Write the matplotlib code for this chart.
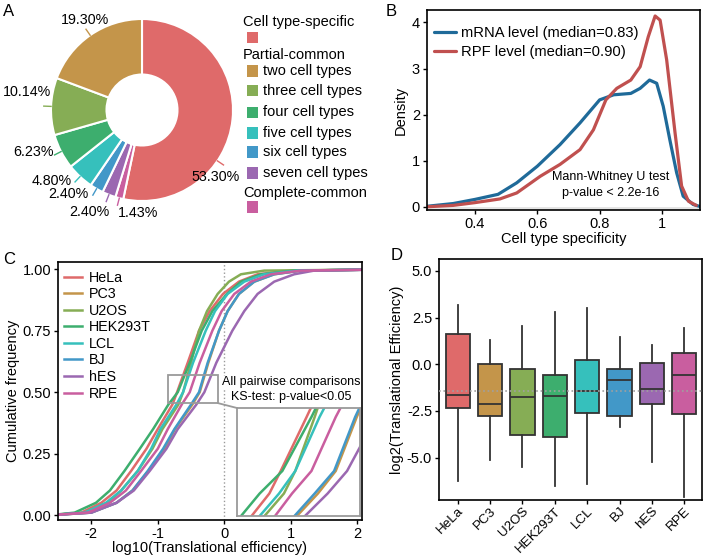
import numpy as np
import matplotlib
matplotlib.use("Agg")
import matplotlib.pyplot as plt
from matplotlib.patches import Rectangle, ConnectionPatch

plt.rcParams['font.family'] = ['Liberation Sans', 'DejaVu Sans']
plt.rcParams['axes.unicode_minus'] = False

# ---------------- data ----------------
# Panel A
pie_categories = ["Cell type-specific", "two cell types", "three cell types", "four cell types",
                  "five cell types", "six cell types", "seven cell types", "Complete-common"]
pie_values = [53.30, 19.30, 10.14, 6.23, 4.80, 2.40, 2.40, 1.43]
pie_labels = ["53.30%", "19.30%", "10.14%", "6.23%", "4.80%", "2.40%", "2.40%", "1.43%"]

# Panel B
mrna_x = [0.245, 0.33, 0.40, 0.474, 0.534, 0.60, 0.673, 0.737, 0.80, 0.845, 0.90, 0.93, 0.96,
          0.983, 1.004, 1.025, 1.047, 1.068, 1.10, 1.12]
mrna_y = [0.01, 0.07, 0.16, 0.27, 0.52, 0.88, 1.35, 1.82, 2.32, 2.43, 2.46, 2.57, 2.75,
          2.68, 2.18, 1.46, 0.74, 0.23, 0.05, 0.01]
rpf_x = [0.245, 0.33, 0.40, 0.48, 0.534, 0.609, 0.673, 0.737, 0.78, 0.82, 0.855, 0.90, 0.93,
         0.956, 0.978, 0.994, 1.015, 1.042, 1.063, 1.085, 1.11]
rpf_y = [0.0, 0.03, 0.09, 0.17, 0.30, 0.66, 0.92, 1.24, 1.67, 2.32, 2.57, 2.75, 3.04,
         3.69, 4.14, 4.05, 3.19, 1.60, 0.45, 0.12, 0.03]
density_labels = ["mRNA level (median=0.83)", "RPF level (median=0.90)"]

# Panel C / D
cell_types = ["HeLa", "PC3", "U2OS", "HEK293T", "LCL", "BJ", "hES", "RPE"]
cdf_levels = [0.0, 0.01, 0.05, 0.10, 0.18, 0.27, 0.35, 0.45, 0.50, 0.62, 0.75, 0.83, 0.90,
              0.95, 0.98, 0.995, 1.0]
cdf_HeLa = [-2.6, -2.15, -1.85, -1.62, -1.40, -1.17, -1.00, -0.78, -0.71, -0.55, -0.38, -0.22,
            -0.02, 0.22, 0.50, 1.00, 2.5]
cdf_PC3 = [-2.6, -2.00, -1.62, -1.38, -1.14, -0.90, -0.74, -0.48, -0.37, -0.24, -0.08, 0.05,
           0.22, 0.45, 0.75, 1.15, 2.5]
cdf_U2OS = [-2.6, -2.10, -1.75, -1.55, -1.30, -1.08, -0.93, -0.69, -0.62, -0.50, -0.38, -0.26,
            -0.10, 0.07, 0.25, 0.60, 2.5]
cdf_HEK293T = [-2.6, -2.25, -1.93, -1.72, -1.50, -1.27, -1.07, -0.84, -0.70, -0.52, -0.34, -0.18,
               0.04, 0.25, 0.55, 1.05, 2.5]
cdf_LCL = [-2.6, -2.10, -1.78, -1.55, -1.30, -1.10, -0.96, -0.72, -0.62, -0.47, -0.28, -0.14,
           0.05, 0.30, 0.60, 1.10, 2.5]
cdf_BJ = [-2.6, -2.00, -1.62, -1.38, -1.15, -0.92, -0.75, -0.50, -0.38, -0.25, -0.08, 0.05,
          0.22, 0.45, 0.75, 1.15, 2.5]
cdf_hES = [-2.6, -2.00, -1.62, -1.36, -1.12, -0.87, -0.70, -0.42, -0.30, -0.12, 0.12, 0.30,
           0.50, 0.75, 1.05, 1.35, 2.5]
cdf_RPE = [-2.6, -2.05, -1.72, -1.48, -1.25, -1.00, -0.85, -0.64, -0.52, -0.37, -0.18, -0.04,
           0.15, 0.40, 0.70, 1.15, 2.5]
cdf_series = [cdf_HeLa, cdf_PC3, cdf_U2OS, cdf_HEK293T, cdf_LCL, cdf_BJ, cdf_hES, cdf_RPE]

box_whislo = [-6.25, -5.13, -5.48, -6.50, -6.43, -3.38, -5.21, -7.09]
box_q1 = [-2.36, -2.77, -3.79, -3.91, -2.59, -2.75, -2.14, -2.64]
box_med = [-1.64, -2.11, -1.73, -1.68, -1.43, -0.82, -1.34, -0.57]
box_q3 = [1.63, 0.02, -0.25, -0.55, 0.25, -0.25, 0.09, 0.63]
box_whishi = [3.18, 1.30, 2.05, 2.82, 3.04, 1.46, 1.04, 1.96]
overall_median = -1.43

# ---------------- styling ----------------
palette = ["#DF6A6A", "#C4954A", "#86AD55", "#3DAE6E", "#36C0BC", "#4298C8", "#9B68B1", "#C95E9F"]
blue_b, red_b = "#1F6A99", "#C0504F"
W, H = 703, 557
FS = 10.5

fig = plt.figure(figsize=(W / 100, H / 100), dpi=100)


def px_axes(l, t, r, b):
    return fig.add_axes([l / W, 1 - b / H, (r - l) / W, (b - t) / H])


def fx(x):
    return x / W


def fy(y):
    return 1 - y / H


# ---------------- Panel A ----------------
cx, cy, R = 142, 110, 91
axA = px_axes(cx - 100, cy - 100, cx + 100, cy + 100)
order = [0] + list(range(7, 0, -1))
wedges, _ = axA.pie([pie_values[i] for i in order], colors=[palette[i] for i in order],
                    startangle=90, counterclock=False,
                    wedgeprops=dict(width=0.61, edgecolor='white', linewidth=1.5))
axA.set_xlim(-100 / R, 100 / R)
axA.set_ylim(-100 / R, 100 / R)
axA.set_aspect('equal')
axA.axis('off')
# label layout: text centre offsets (in radius units) per category index
label_off = {0: (0.813, -0.736), 1: (-0.626, 0.989), 2: (-1.264, 0.198), 3: (-1.187, -0.462),
             4: (-0.989, -0.780), 5: (-0.813, -0.923), 6: (-0.582, -1.121), 7: (-0.044, -1.132)}
leader_override = {0: -34}
for w, i in zip(wedges, order):
    mid = (w.theta1 + w.theta2) / 2
    la = np.deg2rad(leader_override.get(i, mid))
    axA.plot([np.cos(la) * 1.0, np.cos(la) * 1.08], [np.sin(la) * 1.0, np.sin(la) * 1.08],
             color=palette[i], lw=1.0, clip_on=False)
    ox, oy = label_off[i]
    axA.text(ox, oy, pie_labels[i], ha='center', va='center', fontsize=10.3, clip_on=False)

# legend for A (manual)
leg_x_text, leg_x_sq = 243, 247
fig.text(fx(leg_x_text), fy(22), "Cell type-specific", fontsize=10.5, va='center', ha='left')
fig.patches.append(Rectangle((fx(leg_x_sq), fy(43)), 11 / W, 11 / H, transform=fig.transFigure,
                             facecolor=palette[0], edgecolor='none'))
fig.text(fx(leg_x_text), fy(55), "Partial-common", fontsize=10.5, va='center', ha='left')
item_y = [71, 91, 112, 133, 152, 173]
for k, yy in enumerate(item_y):
    i = k + 1
    fig.patches.append(Rectangle((fx(leg_x_sq), fy(yy + 5.5)), 11 / W, 11 / H,
                                 transform=fig.transFigure, facecolor=palette[i], edgecolor='none'))
    fig.text(fx(263), fy(yy), pie_categories[i], fontsize=10.5, va='center', ha='left')
fig.text(fx(leg_x_text), fy(193), "Complete-common", fontsize=10.5, va='center', ha='left')
fig.patches.append(Rectangle((fx(leg_x_sq), fy(212.5)), 11 / W, 11 / H, transform=fig.transFigure,
                             facecolor=palette[7], edgecolor='none'))

# ---------------- Panel B ----------------
axB = px_axes(427, 10, 700, 210)
axB.axhspan(-0.07, 0, color='#E5E5E5', lw=0, zorder=0)
axB.plot(mrna_x, mrna_y, color=blue_b, lw=2.3, label=density_labels[0], solid_capstyle='round')
axB.plot(rpf_x, rpf_y, color=red_b, lw=2.3, label=density_labels[1], solid_capstyle='round')
axB.set_xlim(0.246, 1.122)
axB.set_ylim(-0.07, 4.27)
axB.set_xticks([0.4, 0.6, 0.8, 1.0])
axB.set_xticklabels(['0.4', '0.6', '0.8', '1'])
axB.set_yticks([0, 1, 2, 3, 4])
axB.set_xlabel("Cell type specificity", fontsize=FS, labelpad=0.5)
axB.set_ylabel("Density", fontsize=FS, labelpad=3)
axB.legend(loc='upper left', bbox_to_anchor=(-0.005, 0.965), frameon=False, fontsize=10.6,
           handlelength=1.45, handletextpad=0.35, labelspacing=0.35, borderaxespad=0.2)
axB.text(0.836, 0.65, "Mann-Whitney U test", fontsize=9, ha='center', va='center')
axB.text(0.836, 0.30, "p-value < 2.2e-16", fontsize=9, ha='center', va='center')

# ---------------- Panel C ----------------
axC = px_axes(58, 262, 362, 520)
axC.axvline(0, color='#999999', ls=':', lw=1.0, zorder=1)
for name, ser, col in zip(cell_types, cdf_series, palette):
    axC.plot(ser, cdf_levels, color=col, lw=1.8, label=name, zorder=2)
axC.set_xlim(-2.5, 2.07)
axC.set_ylim(-0.02, 1.03)
axC.set_xticks([-2, -1, 0, 1, 2])
axC.set_yticks([0, 0.25, 0.5, 0.75, 1.0])
axC.set_yticklabels(['0.00', '0.25', '0.50', '0.75', '1.00'])
axC.set_xlabel("log10(Translational efficiency)", fontsize=FS, labelpad=0)
axC.set_ylabel("Cumulative frequency", fontsize=FS, labelpad=2)
axC.legend(loc='upper left', bbox_to_anchor=(-0.01, 1.0), frameon=False, fontsize=10.3,
           handlelength=1.3, handletextpad=0.45, labelspacing=0.18, borderaxespad=0.2)
box_x0, box_x1, box_y0, box_y1 = -0.84, -0.10, 0.456, 0.57
axC.add_patch(Rectangle((box_x0, box_y0), box_x1 - box_x0, box_y1 - box_y0, fill=False,
                        edgecolor='#9A9A9A', lw=1.3, zorder=3))
axC.text(1.0, 0.54, "All pairwise comparisons", fontsize=9, ha='center', va='center',
         clip_on=False, zorder=4, bbox=dict(facecolor='white', edgecolor='none', pad=0.5))
axC.text(1.0, 0.48, "KS-test: p-value<0.05", fontsize=9, ha='center', va='center',
         zorder=4, bbox=dict(facecolor='white', edgecolor='none', pad=0.5))

axI = px_axes(237, 408, 360, 516)
for ser, col in zip(cdf_series, palette):
    axI.plot(ser, cdf_levels, color=col, lw=1.8)
axI.set_xlim(-0.98, -0.22)
axI.set_ylim(0.40, 0.64)
axI.set_xticks([])
axI.set_yticks([])
for s in axI.spines.values():
    s.set_edgecolor('#9A9A9A')
    s.set_linewidth(1.3)
con = ConnectionPatch(xyA=(box_x1, box_y0), coordsA=axC.transData,
                      xyB=(0, 1), coordsB=axI.transAxes, color='#9A9A9A', lw=1.3)
fig.add_artist(con)

# ---------------- Panel D ----------------
axD = px_axes(439, 259, 702, 500)
stats = []
for i in range(len(cell_types)):
    stats.append(dict(med=box_med[i], q1=box_q1[i], q3=box_q3[i], whislo=box_whislo[i],
                      whishi=box_whishi[i], fliers=[], label=cell_types[i]))
bp = axD.bxp(stats, positions=np.arange(1, 9), widths=0.75, patch_artist=True, showcaps=False,
             showfliers=False,
             boxprops=dict(edgecolor='#333333', linewidth=1.3),
             medianprops=dict(color='#333333', linewidth=1.3),
             whiskerprops=dict(color='#333333', linewidth=1.3))
for patch, col in zip(bp['boxes'], palette):
    patch.set_facecolor(col)
axD.axhline(overall_median, color='#A0A0A0', ls=':', lw=1.2, zorder=5)
axD.set_xlim(0.42, 8.55)
axD.set_ylim(-7.27, 5.64)
axD.set_yticks([5, 2.5, 0, -2.5, -5])
axD.set_yticklabels(['5.0', '2.5', '0.0', '-2.5', '-5.0'])
axD.set_xticks(np.arange(1, 9))
axD.set_xticklabels(cell_types, rotation=45, ha='right', rotation_mode='anchor')
axD.set_ylabel("log2(Translational Efficiency)", fontsize=FS, labelpad=2)

for ax in (axB, axC, axD):
    for s in ax.spines.values():
        s.set_linewidth(1.2)
        s.set_color('black')
    ax.tick_params(axis='both', labelsize=FS, length=3, width=1.0, pad=2, colors='black')
axD.tick_params(axis='x', pad=0.5, labelsize=9.6)

# panel letters
fig.text(fx(3), fy(12), "A", fontsize=12, va='center', ha='left')
fig.text(fx(386), fy(12), "B", fontsize=12, va='center', ha='left')
fig.text(fx(3), fy(259), "C", fontsize=12, va='center', ha='left')
fig.text(fx(391), fy(255), "D", fontsize=12, va='center', ha='left')

fig.savefig("out.png", dpi=100)
